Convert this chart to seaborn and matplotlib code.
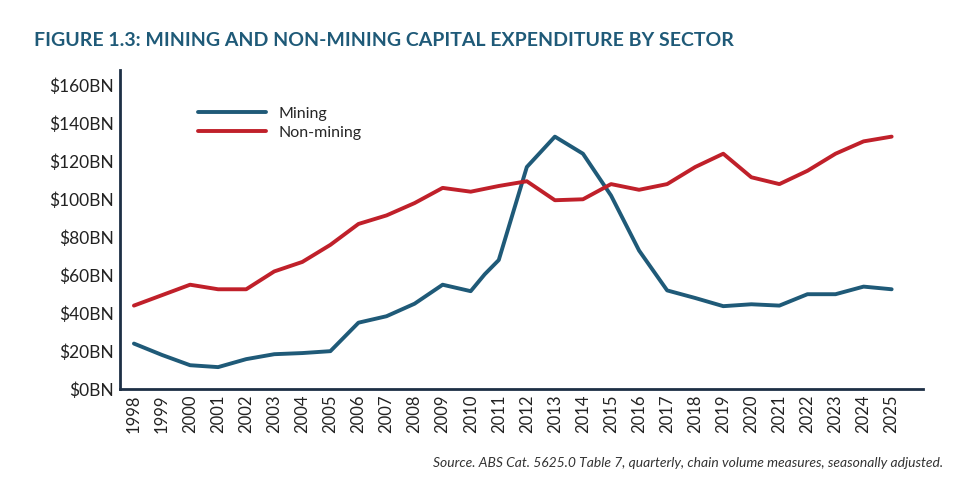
import matplotlib
matplotlib.use("Agg")
import matplotlib.pyplot as plt
import seaborn as sns
import pandas as pd

years = list(range(1998, 2026))
mining_x = years[:13] + [2010.5] + years[13:]
mining = [24, 18, 12.6, 11.6, 15.8, 18.4, 19, 20, 35, 38.4, 45, 55, 51.6, 60.5,
          68, 117, 133, 124, 102, 73, 52, 48, 43.7, 44.7, 44, 50, 50, 54, 52.6]
non_mining = [44, 49.5, 55, 52.6, 52.6, 62, 67, 76, 87, 91.5, 98, 106, 104, 107,
              109.5, 99.5, 100, 108, 105, 108, 117, 124, 111.6, 108, 115, 124, 130.5, 133]
yticks = [0, 20, 40, 60, 80, 100, 120, 140, 160]

sns.set_style("white")
plt.rcParams['font.family'] = ['Lato', 'DejaVu Sans']
navy = "#1d2f45"
blue = "#1f5a78"
red = "#c0202a"

fig = plt.figure(figsize=(9.67, 4.84), dpi=100)
ax = fig.add_axes([0.124, 0.196, 0.83, 0.659])
sns.lineplot(x=mining_x, y=mining, ax=ax, color=blue, lw=2.8, label="Mining")
sns.lineplot(x=years, y=non_mining, ax=ax, color=red, lw=2.8, label="Non-mining")
ax.set_xlim(1997.5, 2026.1)
ax.set_ylim(0, 168)
ax.set_yticks(yticks)
ax.set_yticklabels([f"${v}BN" for v in yticks], fontsize=12.5, color="#222")
ax.set_xticks(years)
ax.set_xticklabels([str(y) for y in years], rotation=90, fontsize=12, color="#222")
for s in ["top", "right"]:
    ax.spines[s].set_visible(False)
for s in ["left", "bottom"]:
    ax.spines[s].set_color(navy)
    ax.spines[s].set_linewidth(2)
ax.tick_params(length=0, pad=4)
leg = ax.legend(loc="upper left", bbox_to_anchor=(0.08, 0.93), frameon=False,
                fontsize=11.5, handlelength=4.2, labelspacing=0.3)
fig.text(0.035, 0.905, "FIGURE 1.3: MINING AND NON-MINING CAPITAL EXPENDITURE BY SECTOR",
         fontsize=14, fontweight="bold", color=blue)
fig.text(0.975, 0.035, "Source. ABS Cat. 5625.0 Table 7, quarterly, chain volume measures, seasonally adjusted.",
         fontsize=10, style="italic", ha="right", color="#333")
fig.savefig("out.png", dpi=100)
